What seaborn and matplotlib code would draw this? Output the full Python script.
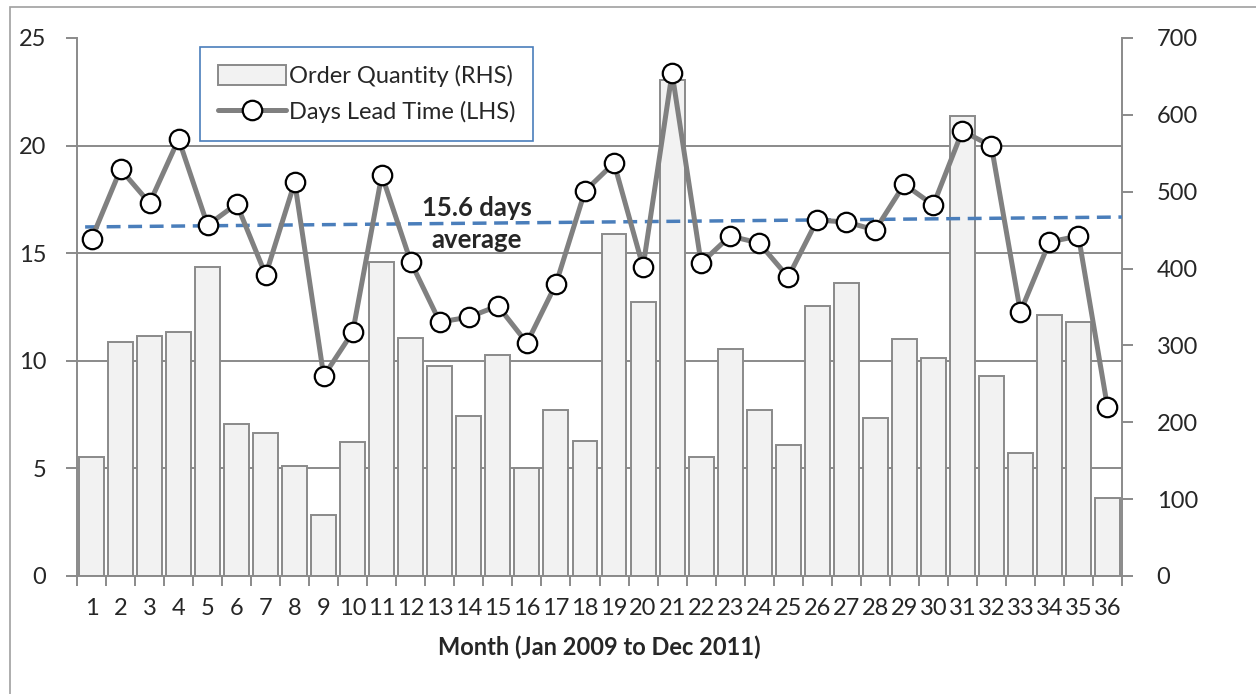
import numpy as np
import pandas as pd
import seaborn as sns
import matplotlib.pyplot as plt
from matplotlib.patches import Rectangle
from matplotlib.lines import Line2D
from matplotlib.ticker import FixedLocator, MultipleLocator

# Month 1..36 (Jan 2009 to Dec 2011)
months = list(range(1, 37))

# Order quantity (right axis)
order_qty = [155, 304, 312, 317, 402, 198, 186, 143, 79, 174, 408, 310,
             273, 208, 288, 140, 216, 176, 445, 356, 645, 155, 295, 216,
             170, 351, 381, 206, 308, 284, 598, 260, 160, 340, 330, 101]

# Days lead time (left axis)
lead_time = [15.66, 18.9, 17.33, 20.3, 16.3, 17.29, 13.99, 18.3, 9.29, 11.34,
             18.63, 14.59, 11.8, 12.03, 12.55, 10.83, 13.57, 17.89, 19.19, 14.36,
             23.37, 14.54, 15.8, 15.47, 13.89, 16.54, 16.45, 16.08, 18.2, 17.24,
             20.68, 19.98, 12.27, 15.52, 15.8, 7.85]

# dashed average/trend line end values (left axis)
trend_start, trend_end = 16.22, 16.68

legend_labels = ['Order Quantity (RHS)', 'Days Lead Time (LHS)']

df = pd.DataFrame({'month': [str(m) for m in months],
                   'pos': np.arange(len(months)),
                   'qty': order_qty,
                   'lead': lead_time})

sns.set_style('white')
plt.rcParams['font.family'] = ['Lato', 'DejaVu Sans']

fig = plt.figure(figsize=(12.56, 6.94), dpi=100)
ax = fig.add_axes([77 / 1256, 1 - 576 / 694, (1122 - 77) / 1256, (576 - 38) / 694])
ax2 = ax.twinx()

grid_col = '#8a8a8a'

# bars on the right axis (drawn below the line axis)
ax2.set_zorder(1)
ax.set_zorder(2)
ax.patch.set_visible(False)

sns.barplot(data=df, x='month', y='qty', ax=ax2, color='#f2f2f2',
            edgecolor=grid_col, linewidth=1.4, width=0.86, saturation=1)
ax2.set_ylim(0, 700)
ax2.yaxis.set_major_locator(MultipleLocator(100))
# gridlines matching left-axis steps of 5 (700 / 25 * 5)
ax2.yaxis.set_minor_locator(MultipleLocator(140))
ax2.grid(which='minor', axis='y', color=grid_col, linewidth=1.4, zorder=0)
ax2.grid(which='major', visible=False)
ax2.set_axisbelow(True)
ax2.set_ylabel('')
ax2.set_xlabel('')

sns.lineplot(data=df, x='pos', y='lead', ax=ax, color='#808080', linewidth=3.6,
             marker='o', markersize=14, markerfacecolor='white',
             markeredgecolor='black', markeredgewidth=1.6, zorder=3)

ax.plot([-0.22, len(months) - 0.5], [trend_start, trend_end], color='#4a7ebb',
        linestyle=(0, (4, 2.2)), linewidth=2.5, zorder=2)

ax.text(13.28, 16.38, '15.6 days\naverage', ha='center', va='center',
        fontsize=18.5, fontweight='bold', linespacing=1.4, zorder=4)

ax.set_ylim(0, 25)
ax.set_xlim(-0.5, len(months) - 0.5)
ax.yaxis.set_major_locator(MultipleLocator(5))
ax.set_xticks(df['pos'])
ax.set_xticklabels(df['month'])
ax.xaxis.set_minor_locator(FixedLocator(np.arange(len(months) + 1) - 0.5))
ax.set_ylabel('')
ax.set_xlabel('Month (Jan 2009 to Dec 2011)', fontsize=17, fontweight='bold', labelpad=12)

for a in (ax, ax2):
    for s in a.spines.values():
        s.set_visible(False)
for s in ('left', 'right', 'bottom'):
    ax2.spines[s].set_visible(True)
    ax2.spines[s].set_color(grid_col)
    ax2.spines[s].set_linewidth(1.4)

ax.tick_params(axis='y', which='major', left=True, length=8, width=1.4, color=grid_col,
               labelsize=17, pad=14)
ax.tick_params(axis='x', which='major', bottom=False, labelsize=17, pad=12)
ax.tick_params(axis='x', which='minor', bottom=True, length=7, width=1.4, color=grid_col)
ax2.tick_params(axis='y', which='major', right=True, length=8, width=1.4, color=grid_col,
                labelsize=17, pad=17)
ax2.tick_params(axis='y', which='minor', right=False)
ax2.tick_params(axis='x', bottom=False, labelbottom=False)

# legend
handles = [Rectangle((0, 0), 1, 1, facecolor='#f2f2f2', edgecolor=grid_col, linewidth=1.4),
           Line2D([], [], color='#808080', linewidth=3.6, marker='o', markersize=14,
                  markerfacecolor='white', markeredgecolor='black', markeredgewidth=1.6)]
leg = ax.legend(handles, legend_labels,
                loc='upper left', bbox_to_anchor=(0.1177, 0.983), fontsize=17,
                frameon=True, fancybox=False, borderpad=0.75, handlelength=2.9,
                handleheight=0.9, handletextpad=0.12, labelspacing=0.6,
                borderaxespad=0)
leg.get_frame().set_edgecolor('#4a7ebb')
leg.get_frame().set_linewidth(1.2)
leg.get_frame().set_alpha(1)

# outer chart border
fig.add_artist(Rectangle((10 / 1256, -0.1), 1.2, 1.1 - 7 / 694, fill=False,
                         edgecolor='#a0a0a0', linewidth=1.2, transform=fig.transFigure))

fig.savefig('out.png', dpi=100)
